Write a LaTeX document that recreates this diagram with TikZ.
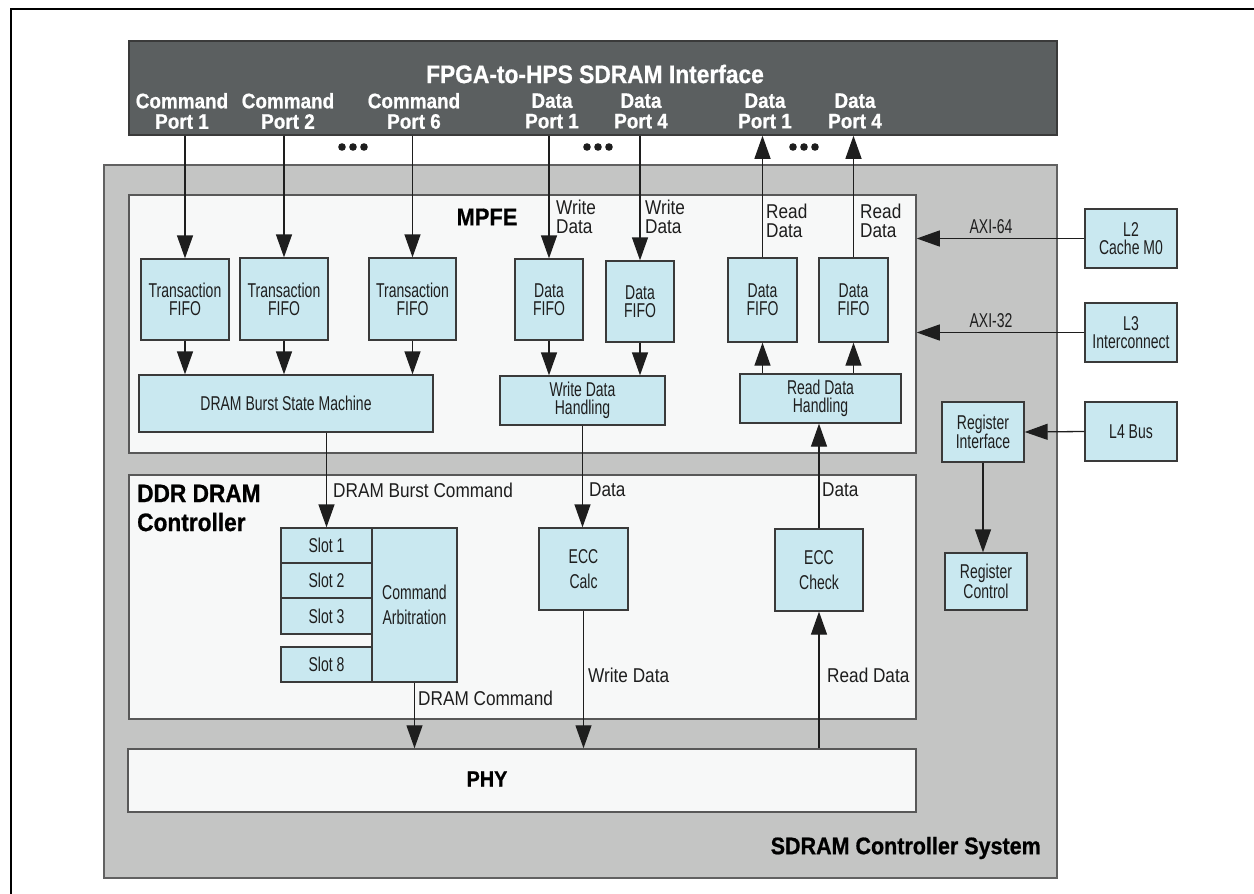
\documentclass[tikz,border=0pt]{standalone}
\usepackage{fontspec}
\setmainfont{Liberation Sans}
\newfontfamily\condfont{Liberation Sans}[FakeStretch=0.70]
\newfontfamily\labfont{Liberation Sans}[FakeStretch=0.86]
\newfontfamily\headfont{Liberation Sans}[FakeStretch=0.90,FakeBold=0.8]
\usetikzlibrary{arrows.meta}

\definecolor{barfill}{HTML}{5B5F60}
\definecolor{sysfill}{HTML}{C4C5C4}
\definecolor{panelfill}{HTML}{F7F8F8}
\definecolor{blockfill}{HTML}{C9E8F0}
\definecolor{edge}{HTML}{3A3A3A}
\definecolor{ink}{HTML}{1E1E1E}

\tikzset{
  blk/.style={draw=edge, fill=blockfill, line width=1.3pt, inner sep=0pt,
    font=\condfont\fontsize{20}{18}\selectfont, align=center, text=ink},
  panel/.style={draw=edge!85, fill=panelfill, line width=1.5pt, inner sep=0pt},
  arr/.style={-{Triangle[length=23pt,width=16pt]}, line width=1.3pt, draw=ink},
  lab/.style={font=\labfont\fontsize{20}{19}\selectfont, text=ink, inner sep=0pt, align=left},
  axilab/.style={font=\condfont\fontsize{20}{19}\selectfont, text=ink, inner sep=0pt},
  port/.style={font=\headfont\bfseries\fontsize{21}{20.5}\selectfont, text=white, align=center, inner sep=0pt},
  head/.style={font=\headfont\bfseries\fontsize{24.3}{28}\selectfont, text=black, inner sep=0pt}
}

\begin{document}
\begin{tikzpicture}[x=1pt,y=-1pt]
\useasboundingbox (0,0) rectangle (1254,894);
\fill[white] (0,0) rectangle (1254,894);

% page frame
\draw[line width=2.6pt, black] (11,900) -- (11,9) -- (1260,9);

% large containers
\node[panel, draw=edge!80, fill=sysfill, minimum width=953pt, minimum height=713pt] (sys) at (580.5,521.5) {};
\node[panel, draw=edge, fill=barfill, minimum width=928pt, minimum height=94pt] (bar) at (593,88) {};
\node[panel, minimum width=787pt, minimum height=258pt] (mpfe) at (522.5,324) {};
\node[panel, minimum width=787pt, minimum height=244pt] (ddr) at (522.5,597) {};
\node[panel, minimum width=788pt, minimum height=63pt] (phy) at (522,780.5) {};

% interface bar texts
\node[font=\headfont\bfseries\fontsize{25.3}{28}\selectfont, text=white, inner sep=0pt] (title) at (595,74) {FPGA-to-HPS SDRAM Interface};
\node[port] (cp1) at (182,111) {Command\\Port 1};
\node[port] (cp2) at (288,111) {Command\\Port 2};
\node[port] (cp6) at (414,111) {Command\\Port 6};
\node[port] (dp1w) at (552,111) {Data\\Port 1};
\node[port] (dp4w) at (641,111) {Data\\Port 4};
\node[port] (dp1r) at (765,111) {Data\\Port 1};
\node[port] (dp4r) at (855,111) {Data\\Port 4};

% ellipsis dots between ports
\foreach \cx in {353,598,804} {
  \fill[ink] (\cx-11,147) circle (3.8pt);
  \fill[ink] (\cx,147) circle (3.8pt);
  \fill[ink] (\cx+11,147) circle (3.8pt);
}

% section titles
\node[head] (mpfelab) at (487,217) {MPFE};
\node[head, font=\headfont\bfseries\fontsize{22}{28}\selectfont] (phylab) at (487,779) {PHY};
\node[head, font=\headfont\bfseries\fontsize{25.2}{29}\selectfont, align=left, anchor=west] (ddrlab) at (137,508) {DDR DRAM\\Controller};
\node[head, anchor=east, font=\headfont\bfseries\fontsize{23.9}{28}\selectfont] (syslab) at (1041,848) {SDRAM Controller System};

% MPFE blocks
\node[blk, minimum width=88pt, minimum height=81pt] (tf1) at (185,299.5) {Transaction\\FIFO};
\node[blk, minimum width=88pt, minimum height=82pt] (tf2) at (284,299) {Transaction\\FIFO};
\node[blk, minimum width=87pt, minimum height=82pt] (tf6) at (412.5,299) {Transaction\\FIFO};
\node[blk, minimum width=68pt, minimum height=81pt] (wf1) at (549,299.5) {Data\\FIFO};
\node[blk, minimum width=68pt, minimum height=81pt] (wf4) at (640,301.5) {Data\\FIFO};
\node[blk, minimum width=69pt, minimum height=84pt] (rf1) at (762.5,300) {Data\\FIFO};
\node[blk, minimum width=69pt, minimum height=84pt] (rf4) at (853.5,300) {Data\\FIFO};
\node[blk, minimum width=294pt, minimum height=57pt] (bsm) at (286,403.5) {DRAM Burst State Machine};
\node[blk, minimum width=165pt, minimum height=49pt] (wdh) at (582.5,400.5) {Write Data\\Handling};
\node[blk, minimum width=161pt, minimum height=49pt] (rdh) at (820.5,398.5) {Read Data\\Handling};

% DDR controller blocks
\node[blk, minimum width=91pt, minimum height=35pt] (s1) at (326.5,545.5) {Slot 1};
\node[blk, minimum width=91pt, minimum height=35pt] (s2) at (326.5,580.5) {Slot 2};
\node[blk, minimum width=91pt, minimum height=36pt] (s3) at (326.5,616) {Slot 3};
\node[blk, minimum width=91pt, minimum height=35pt] (s8) at (326.5,664.5) {Slot 8};
\node[blk, minimum width=85pt, minimum height=154pt, font=\condfont\fontsize{20}{25}\selectfont] (arb) at (414.5,605) {Command\\Arbitration};
\node[blk, minimum width=89pt, minimum height=82pt, font=\condfont\fontsize{20}{25}\selectfont] (ecccalc) at (583.5,569) {ECC\\Calc};
\node[blk, minimum width=88pt, minimum height=82pt, font=\condfont\fontsize{20}{25}\selectfont] (ecccheck) at (819,570) {ECC\\Check};

% register and bus blocks
\node[blk, minimum width=82pt, minimum height=60pt] (regif) at (983,432) {Register\\Interface};
\node[blk, minimum width=82pt, minimum height=57pt] (regctl) at (986,581.5) {Register\\Control};
\node[blk, minimum width=92pt, minimum height=59pt] (l2) at (1131,238.5) {L2\\Cache M0};
\node[blk, minimum width=92pt, minimum height=59pt] (l3) at (1131,332.5) {L3\\Interconnect};
\node[blk, minimum width=92pt, minimum height=59pt] (l4) at (1131,431.5) {L4 Bus};

% port connectors
\draw[arr] (bar.south -| tf1.north) -- (tf1.north);
\draw[arr] (bar.south -| tf2.north) -- (tf2.north);
\draw[arr] (bar.south -| tf6.north) -- (tf6.north);
\draw[arr] (bar.south -| wf1.north) -- (wf1.north);
\draw[arr] (bar.south -| wf4.north) -- (wf4.north);
\draw[arr] (rf1.north) -- (bar.south -| rf1.north);
\draw[arr] (rf4.north) -- (bar.south -| rf4.north);

% FIFO paths
\draw[arr] (tf1.south) -- (tf1.south |- bsm.north);
\draw[arr] (tf2.south) -- (tf2.south |- bsm.north);
\draw[arr] (tf6.south) -- (tf6.south |- bsm.north);
\draw[arr] (wf1.south) -- (wf1.south |- wdh.north);
\draw[arr] (wf4.south) -- (wf4.south |- wdh.north);
\draw[arr] (rf1.south |- rdh.north) -- (rf1.south);
\draw[arr] (rf4.south |- rdh.north) -- (rf4.south);

% MPFE to controller
\draw[arr] (bsm.south -| s1.north) -- (s1.north);
\draw[arr] (wdh.south) -- (wdh.south |- ecccalc.north);
\draw[arr] (ecccheck.north) -- (ecccheck.north |- rdh.south);

% controller to PHY
\draw[arr] (arb.south) -- (arb.south |- phy.north);
\draw[arr] (ecccalc.south) -- (ecccalc.south |- phy.north);
\draw[arr] (phy.north -| ecccheck.south) -- (ecccheck.south);

% host-side buses
\draw[arr] (l2.west) -- (l2.west -| mpfe.east);
\draw[arr] (l3.west) -- (l3.west -| mpfe.east);
\draw[arr] (l4.west) -- (regif.east);
\draw[arr] (regif.south) -- (regif.south |- regctl.north);

% connector labels
\node[lab, anchor=west] (wl1) at (556,217) {Write\\Data};
\node[lab, anchor=west] (wl4) at (645,217) {Write\\Data};
\node[lab, anchor=west] (rl1) at (766,221) {Read\\Data};
\node[lab, anchor=west] (rl4) at (860,221) {Read\\Data};
\node[axilab] (axi64) at (991,227) {AXI-64};
\node[axilab] (axi32) at (991,321) {AXI-32};
\node[lab, anchor=west] (bcl) at (333,490) {DRAM Burst Command};
\node[lab, anchor=west] (dl1) at (589,490) {Data};
\node[lab, anchor=west] (dl2) at (822,490) {Data};
\node[lab, anchor=west] (wdl) at (588,675) {Write Data};
\node[lab, anchor=west] (rdl) at (827,675) {Read Data};
\node[lab, anchor=west] (dcl) at (418,698) {DRAM Command};
\end{tikzpicture}
\end{document}
